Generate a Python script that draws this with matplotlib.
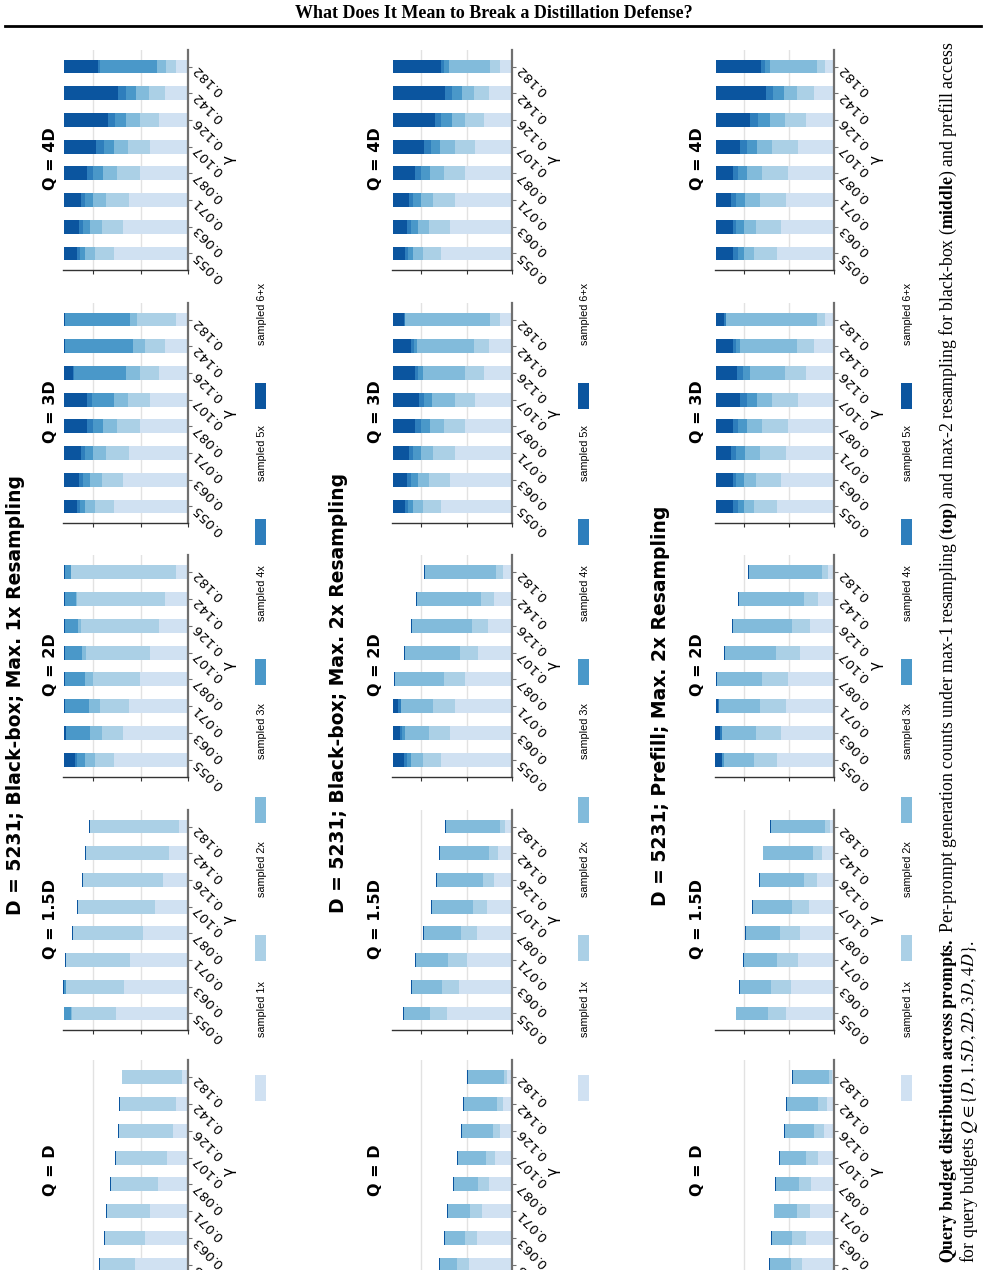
import matplotlib
matplotlib.use("Agg")
import matplotlib.pyplot as plt
from matplotlib.patches import Rectangle
from matplotlib.lines import Line2D

# ---- data (prompt counts, D = 5231 prompts) ----
gammas = ['0.055', '0.063', '0.071', '0.087', '0.107', '0.126', '0.142', '0.182']
levels = ['sampled 1x', 'sampled 2x', 'sampled 3x', 'sampled 4x', 'sampled 5x', 'sampled 6+x']
colors = ['#d0e1f2', '#abd0e6', '#82bbdb', '#4a98c9', '#2e7ebc', '#0b559f']
budgets = ['D', '1.5D', '2D', '3D', '4D']
row_titles = ['D = 5231; Black-box; Max. 1x Resampling',
              'D = 5231; Black-box; Max. 2x Resampling',
              'D = 5231; Prefill; Max. 2x Resampling']

# black-box, max 1x resampling
r1_1d = [[2240, 1820, 1610, 1280, 900, 640, 520, 270],
         [1490, 1700, 1820, 1990, 2150, 2290, 2370, 2500],
         [0, 0, 0, 0, 0, 0, 0, 0],
         [0, 0, 0, 0, 0, 0, 0, 0],
         [0, 0, 0, 0, 0, 0, 0, 0],
         [30, 30, 30, 30, 30, 30, 30, 30]]
r1_15d = [[3060, 2710, 2450, 1910, 1400, 1070, 810, 390],
          [1850, 2440, 2710, 2960, 3250, 3380, 3510, 3760],
          [40, 0, 0, 0, 0, 0, 0, 0],
          [270, 80, 0, 0, 0, 0, 0, 0],
          [0, 0, 0, 0, 0, 0, 0, 0],
          [30, 40, 30, 30, 30, 30, 30, 30]]
r1_2d = [[3130, 2750, 2500, 2030, 1610, 1230, 980, 520],
         [800, 880, 1220, 1980, 2690, 3280, 3720, 4420],
         [420, 500, 460, 340, 170, 130, 30, 0],
         [350, 1010, 1020, 850, 730, 560, 470, 260],
         [70, 0, 0, 0, 0, 0, 0, 0],
         [460, 90, 30, 30, 30, 30, 30, 30]]
r1_3d = [[3130, 2750, 2500, 2030, 1610, 1230, 980, 520],
         [800, 880, 970, 970, 930, 800, 840, 1640],
         [420, 500, 550, 590, 590, 590, 500, 290],
         [210, 290, 340, 420, 930, 2190, 2880, 2750],
         [130, 170, 180, 250, 210, 40, 0, 0],
         [540, 640, 690, 970, 960, 380, 30, 30]]
r1_4d = [[3130, 2750, 2500, 2030, 1610, 1230, 980, 520],
         [800, 880, 970, 970, 930, 800, 660, 390],
         [420, 500, 550, 590, 590, 590, 560, 420],
         [210, 290, 340, 420, 420, 460, 420, 2380],
         [130, 170, 180, 250, 350, 290, 340, 110],
         [540, 640, 690, 970, 1330, 1860, 2270, 1410]]

# black-box, max 2x resampling
r2_1d = [[1880, 1530, 1310, 1000, 760, 510, 380, 210],
         [530, 530, 530, 490, 400, 310, 260, 130],
         [750, 880, 970, 1060, 1210, 1370, 1460, 1590],
         [0, 0, 0, 0, 0, 0, 0, 0],
         [0, 0, 0, 0, 0, 0, 0, 0],
         [40, 40, 40, 40, 40, 40, 40, 40]]
r2_15d = [[2850, 2320, 1970, 1530, 1090, 780, 600, 290],
          [750, 750, 840, 710, 620, 490, 400, 220],
          [1150, 1320, 1410, 1630, 1810, 2030, 2160, 2380],
          [0, 0, 0, 0, 0, 0, 0, 0],
          [0, 0, 0, 0, 0, 0, 0, 0],
          [40, 40, 40, 40, 40, 40, 40, 40]]
r2_2d = [[3120, 2720, 2500, 2060, 1480, 1040, 780, 380],
         [790, 930, 970, 930, 790, 710, 570, 310],
         [530, 1060, 1410, 2160, 2430, 2650, 2820, 3130],
         [180, 130, 0, 0, 0, 0, 0, 0],
         [130, 90, 130, 0, 0, 0, 0, 0],
         [470, 290, 210, 40, 40, 40, 40, 40]]
r2_3d = [[3120, 2720, 2500, 2060, 1620, 1220, 1000, 510],
         [790, 930, 970, 930, 880, 840, 660, 440],
         [440, 490, 530, 620, 1010, 1850, 2510, 3750],
         [220, 310, 350, 400, 350, 220, 130, 0],
         [130, 180, 180, 260, 220, 130, 130, 40],
         [530, 600, 700, 960, 1150, 970, 800, 490]]
r2_4d = [[3120, 2720, 2500, 2060, 1620, 1220, 1000, 510],
         [790, 930, 970, 930, 880, 840, 660, 440],
         [440, 490, 530, 620, 660, 570, 530, 1810],
         [220, 310, 350, 400, 400, 490, 440, 220],
         [130, 180, 180, 260, 310, 260, 310, 130],
         [530, 600, 700, 960, 1360, 1850, 2290, 2120]]

# prefill, max 2x resampling
r3_1d = [[1440, 1260, 1080, 1040, 730, 460, 330, 100],
         [490, 620, 580, 530, 530, 440, 360, 130],
         [930, 890, 980, 1020, 1150, 1290, 1380, 1600],
         [0, 0, 0, 0, 0, 0, 0, 0],
         [0, 0, 0, 0, 0, 0, 0, 0],
         [40, 40, 40, 40, 40, 40, 40, 40]]
r3_15d = [[2150, 1920, 1610, 1520, 1120, 770, 550, 190],
          [800, 890, 930, 890, 750, 580, 400, 220],
          [1380, 1380, 1470, 1510, 1730, 1950, 2180, 2400],
          [0, 0, 0, 0, 0, 0, 0, 0],
          [0, 0, 0, 0, 0, 0, 0, 0],
          [40, 40, 40, 40, 40, 40, 40, 40]]
r3_2d = [[2550, 2370, 2150, 2060, 1520, 1080, 730, 280],
         [1020, 1110, 1150, 1150, 1070, 800, 580, 270],
         [1290, 1470, 1820, 2000, 2260, 2620, 2890, 3240],
         [90, 40, 0, 0, 0, 0, 0, 0],
         [40, 90, 40, 0, 0, 0, 0, 0],
         [270, 180, 90, 40, 40, 40, 40, 40]]
r3_3d = [[2550, 2370, 2150, 2060, 1610, 1260, 900, 410],
         [1020, 1110, 1150, 1150, 1150, 930, 750, 360],
         [440, 530, 670, 670, 670, 1550, 2530, 4000],
         [270, 360, 360, 400, 440, 310, 180, 0],
         [180, 130, 220, 220, 310, 270, 130, 90],
         [770, 730, 680, 730, 1050, 910, 740, 370]]
r3_4d = [[2550, 2370, 2150, 2060, 1610, 1260, 900, 410],
         [1020, 1110, 1150, 1150, 1150, 930, 750, 360],
         [440, 530, 670, 670, 670, 670, 580, 2090],
         [270, 360, 360, 400, 440, 490, 490, 180],
         [180, 130, 220, 220, 310, 360, 310, 180],
         [770, 730, 680, 730, 1050, 1520, 2200, 2010]]

rows = [[r1_1d, r1_15d, r1_2d, r1_3d, r1_4d],
        [r2_1d, r2_15d, r2_2d, r2_3d, r2_4d],
        [r3_1d, r3_15d, r3_2d, r3_3d, r3_4d]]

# ---- page layout (pixels; the figure is laid out rotated on the page) ----
W, H = 987, 1270
fig = plt.figure(figsize=(W / 100, H / 100), dpi=100)

def fx(x):
    return x / W

def fy(y):
    return 1 - y / H

row_x = [(63, 188), (392, 512), (715, 834)]
row_title_x = [16, 339, 661]
row_title_y = [695, 693, 706]
panel_title_x = [51, 375, 697]
gamma_x = [229, 553, 876]
legend_x = [261, 584, 907]
panel_y = [(1060, 1282), (810, 1030), (555, 777), (303, 523), (50, 270)]
legend_y = [1088, 948, 810, 672, 532, 396]

for r, panels in enumerate(rows):
    x0, x1 = row_x[r]
    for p, data in enumerate(panels):
        y0, y1 = panel_y[p]
        ax = fig.add_axes([fx(x0), fy(y1), fx(x1 - x0), (y1 - y0) / H])
        left = [0] * len(gammas)
        for k, seg in enumerate(data):
            ax.barh(range(len(gammas)), seg, left=left, height=0.52,
                    color=colors[k], linewidth=0)
            left = [a + b for a, b in zip(left, seg)]
        ax.set_xlim(5280, 0)
        ax.set_ylim(-0.62, 7.62)
        for s in ['top', 'left']:
            ax.spines[s].set_visible(False)
        ax.spines['right'].set_color('#707070')
        ax.spines['right'].set_linewidth(1.6)
        ax.spines['bottom'].set_color('#333333')
        ax.spines['bottom'].set_linewidth(1.0)
        ax.set_xticks([0, 2000, 4000])
        ax.set_xticklabels([])
        ax.tick_params(axis='x', length=3, color='#333333')
        ax.grid(axis='x', color='#e2e2e2', linewidth=1)
        ax.set_axisbelow(True)
        ax.yaxis.tick_right()
        ax.set_yticks(range(len(gammas)))
        ax.set_yticklabels(gammas, rotation=135, rotation_mode='anchor',
                           ha='right', va='center', fontsize=9.5)
        ax.tick_params(axis='y', length=3, color='#707070', pad=2)
        fig.text(fx(panel_title_x[r]), fy((y0 + y1) / 2 - 1), 'Q = ' + budgets[p],
                 rotation=90, ha='center', va='center', fontsize=11.5,
                 fontweight='bold')
        fig.text(fx(gamma_x[r]), fy((y0 + y1) / 2), 'γ', rotation=90,
                 ha='center', va='center', fontsize=11)
    fig.text(fx(row_title_x[r]), fy(row_title_y[r]), row_titles[r], rotation=90,
             ha='center', va='center', fontsize=13.5, fontweight='bold')
    # legend (drawn as a rotated column)
    for k, lab in enumerate(levels):
        yc = legend_y[k]
        fig.add_artist(Rectangle((fx(legend_x[r] - 5.5), fy(yc + 13)),
                                 11 / W, 26 / H, transform=fig.transFigure,
                                 color=colors[k], linewidth=0))
        fig.text(fx(legend_x[r] + 1), fy(yc - 51), lab, rotation=90,
                 rotation_mode='anchor', ha='left', va='center', fontsize=7.8,
                 family='Liberation Sans')

# ---- page header and caption ----
fig.text(0.5, fy(13), 'What Does It Mean to Break a Distillation Defense?',
         ha='center', va='center', fontsize=13, fontweight='bold',
         family='Liberation Serif')
fig.add_artist(Line2D([fx(5), fx(981)], [fy(25.5), fy(25.5)], color='black',
                      linewidth=2, transform=fig.transFigure))

plt.rcParams['mathtext.fontset'] = 'stix'
cap1 = (r'$\mathbf{Query\ budget\ distribution\ across\ prompts.}$ Per-prompt generation '
        r'counts under max-1 resampling ($\mathbf{top}$) and max-2 resampling for '
        r'black-box ($\mathbf{middle}$) and prefill access')
cap2 = r'for query budgets $Q \in \{D, 1.5D, 2D, 3D, 4D\}$.'
fig.text(fx(948), fy(1263), cap1, rotation=90, rotation_mode='anchor',
         ha='left', va='center', fontsize=12.75, family='Liberation Serif')
fig.text(fx(969), fy(1263), cap2, rotation=90, rotation_mode='anchor',
         ha='left', va='center', fontsize=12.75, family='Liberation Serif')

fig.savefig('out.png', dpi=100)
